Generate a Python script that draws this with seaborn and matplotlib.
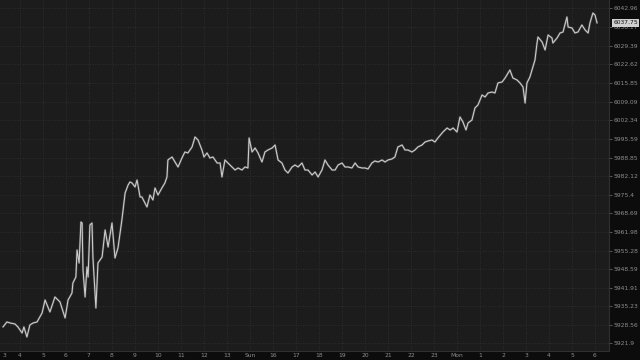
import matplotlib
matplotlib.use("Agg")
import matplotlib.pyplot as plt
import seaborn as sns
import pandas as pd

# ---- data (hour index along the session, price) ----
hours = [0.26, 0.43, 0.57, 0.78, 0.91, 1.09, 1.17, 1.30, 1.43, 1.57, 1.74, 1.96, 2.09, 2.30, 2.52,
         2.74, 2.96, 3.09, 3.26, 3.30, 3.43, 3.48, 3.57, 3.65, 3.70, 3.74, 3.83, 3.91, 3.96, 4.04,
         4.13, 4.17, 4.30, 4.39, 4.57, 4.70, 4.83, 5.00, 5.13, 5.26, 5.43, 5.57, 5.70, 5.78, 5.87,
         6.00, 6.09, 6.22, 6.30, 6.52, 6.65, 6.78, 6.87, 7.00, 7.17, 7.30, 7.39, 7.43, 7.61, 7.74,
         7.87, 8.04, 8.17, 8.30, 8.48, 8.61, 8.74, 8.91, 9.00, 9.13, 9.26, 9.39, 9.57, 9.70, 9.78,
         9.91, 10.04, 10.22, 10.35, 10.48, 10.65, 10.78, 10.91, 10.96, 11.09, 11.22, 11.35, 11.52,
         11.65, 11.78, 11.96, 12.09, 12.22, 12.39, 12.52, 12.65, 12.83, 12.96, 13.09, 13.26, 13.39,
         13.52, 13.70, 13.83, 13.96, 14.13, 14.26, 14.39, 14.57, 14.70, 14.83, 15.00, 15.13, 15.26,
         15.43, 15.57, 15.70, 15.87, 16.00, 16.13, 16.30, 16.43, 16.57, 16.74, 16.87, 17.00, 17.17,
         17.30, 17.43, 17.61, 17.74, 17.87, 18.04, 18.17, 18.30, 18.48, 18.61, 18.74, 18.91, 19.04,
         19.17, 19.39, 19.57, 19.70, 19.83, 20.00, 20.13, 20.26, 20.39, 20.48, 20.65, 20.78, 20.91,
         21.09, 21.22, 21.35, 21.52, 21.65, 21.78, 21.96, 22.09, 22.30, 22.43, 22.61, 22.74, 22.87,
         22.96, 23.04, 23.17, 23.26, 23.39, 23.48, 23.52, 23.70, 23.83, 23.96, 24.13, 24.17, 24.35,
         24.48, 24.61, 24.78, 24.83, 25.00, 25.13, 25.26, 25.43, 25.57, 25.70, 25.78, 25.91, 26.00,
         26.09]
prices = [5927.68, 5929.48, 5929.12, 5928.76, 5927.68, 5925.51, 5927.68, 5924.06, 5928.40, 5929.12,
          5929.48, 5932.73, 5937.43, 5933.10, 5938.51, 5936.71, 5930.93, 5937.43, 5939.96, 5943.57,
          5945.74, 5955.50, 5950.80, 5965.62, 5965.26, 5948.27, 5938.51, 5949.36, 5945.74, 5964.54,
          5965.26, 5952.97, 5934.54, 5950.80, 5952.97, 5962.73, 5956.59, 5965.26, 5952.61, 5956.23,
          5966.34, 5976.10, 5978.99, 5980.08, 5979.72, 5978.27, 5980.80, 5974.66, 5974.66, 5971.04,
          5975.38, 5973.57, 5977.91, 5975.38, 5977.91, 5979.72, 5981.89, 5988.03, 5989.11, 5987.30,
          5985.50, 5988.75, 5990.92, 5990.56, 5992.73, 5996.34, 5995.26, 5991.64, 5989.11, 5990.56,
          5988.75, 5989.11, 5986.94, 5986.94, 5981.89, 5988.03, 5986.94, 5985.50, 5984.41, 5985.14,
          5984.41, 5985.50, 5985.14, 5995.98, 5990.92, 5992.36, 5990.56, 5987.30, 5990.92, 5991.64,
          5992.36, 5993.45, 5988.03, 5986.94, 5984.41, 5983.33, 5985.50, 5986.22, 5985.50, 5986.94,
          5984.41, 5984.41, 5982.61, 5983.69, 5981.89, 5984.41, 5988.03, 5986.22, 5984.41, 5984.41,
          5986.22, 5986.94, 5985.50, 5985.50, 5985.14, 5986.94, 5985.50, 5985.14, 5985.14, 5984.78,
          5986.94, 5987.67, 5987.30, 5988.03, 5987.30, 5988.03, 5988.39, 5989.11, 5992.73, 5993.45,
          5991.64, 5991.64, 5990.92, 5991.64, 5992.73, 5993.45, 5994.53, 5994.89, 5995.26, 5994.53,
          5995.98, 5998.15, 5999.59, 5998.87, 5999.59, 5998.15, 6003.57, 6001.76, 5998.87, 6001.40,
          6002.48, 6006.82, 6007.90, 6011.52, 6010.80, 6012.24, 6012.60, 6012.24, 6015.86, 6016.22,
          6017.66, 6020.55, 6017.66, 6016.94, 6015.86, 6014.41, 6008.63, 6015.86, 6018.02, 6020.55,
          6024.17, 6030.31, 6032.48, 6030.67, 6027.78, 6033.20, 6032.12, 6030.31, 6032.12, 6033.93,
          6034.29, 6039.71, 6036.09, 6035.73, 6033.93, 6034.29, 6036.82, 6035.01, 6033.93, 6037.54,
          6041.15, 6040.43, 6037.54]

x_labels = ["4", "5", "6", "7", "8", "9", "10", "11", "12", "13", "Sun", "16", "17", "18", "19",
            "20", "21", "22", "23", "Mon", "1", "2", "3", "4", "5", "6"]
y_ticks = [6042.96, 6036.17, 6029.39, 6022.62, 6015.85, 6009.09, 6002.34, 5995.59, 5988.85,
           5982.12, 5975.4, 5968.69, 5961.98, 5955.28, 5948.59, 5941.91, 5935.23, 5928.56, 5921.9]
y_tick_labels = ["6042.96", "6036.17", "6029.39", "6022.62", "6015.85", "6009.09", "6002.34",
                 "5995.59", "5988.85", "5982.12", "5975.4", "5968.69", "5961.98", "5955.28",
                 "5948.59", "5941.91", "5935.23", "5928.56", "5921.9"]
first_label = "3"
last_price_label = "6037.75"

df = pd.DataFrame({"hour": hours, "price": prices})

sns.set_style("dark")
plt.rcParams["font.family"] = ["DejaVu Sans"]

fig = plt.figure(figsize=(6.4, 3.6), dpi=100, facecolor="#0c0c0c")
ax = fig.add_axes([0.0, 9 / 360, 609 / 640, 351 / 360])
ax.set_facecolor("#1c1c1c")

sns.lineplot(data=df, x="hour", y="price", ax=ax, color="#b0b0b0", linewidth=1.6, alpha=0.3)
sns.lineplot(data=df, x="hour", y="price", ax=ax, color="#cfcfcf", linewidth=0.75)

ax.set_xlim(3 / 23, 612 / 23)
ax.set_ylim(5918.99, 6045.85)

ax.yaxis.tick_right()
ax.set_yticks(y_ticks)
ax.set_yticklabels(y_tick_labels)
ax.set_xticks(list(range(1, 27)))
ax.set_xticklabels(x_labels)
ax.tick_params(axis="y", colors="#777777", labelsize=4.3, length=2, width=0.5, pad=1.5,
               labelcolor="#8e8e8e")
ax.tick_params(axis="x", colors="#777777", labelsize=4.3, length=0, pad=1.5, labelcolor="#8e8e8e")
ax.set_xlabel("")
ax.set_ylabel("")
ax.grid(True, color="#333333", linestyle=(0, (1, 2)), linewidth=0.6)
for s in ax.spines.values():
    s.set_visible(False)
ax.spines["right"].set_visible(True)
ax.spines["right"].set_color("#303030")
ax.spines["bottom"].set_visible(True)
ax.spines["bottom"].set_color("#303030")

# leftmost tick label partly off the plot
ax.text(4 / 609, -0.005, first_label, transform=ax.transAxes, ha="center", va="top",
        fontsize=4.3, color="#8e8e8e")

# last price marker box
ax.annotate(last_price_label, xy=(1.0, prices[-1]), xycoords=("axes fraction", "data"),
            xytext=(3, 0), textcoords="offset points", ha="left", va="center",
            fontsize=4.3, color="#111111",
            bbox=dict(boxstyle="square,pad=0.25", fc="#d0d0d0", ec="none"))

fig.savefig("out.png", dpi=100, facecolor=fig.get_facecolor())
